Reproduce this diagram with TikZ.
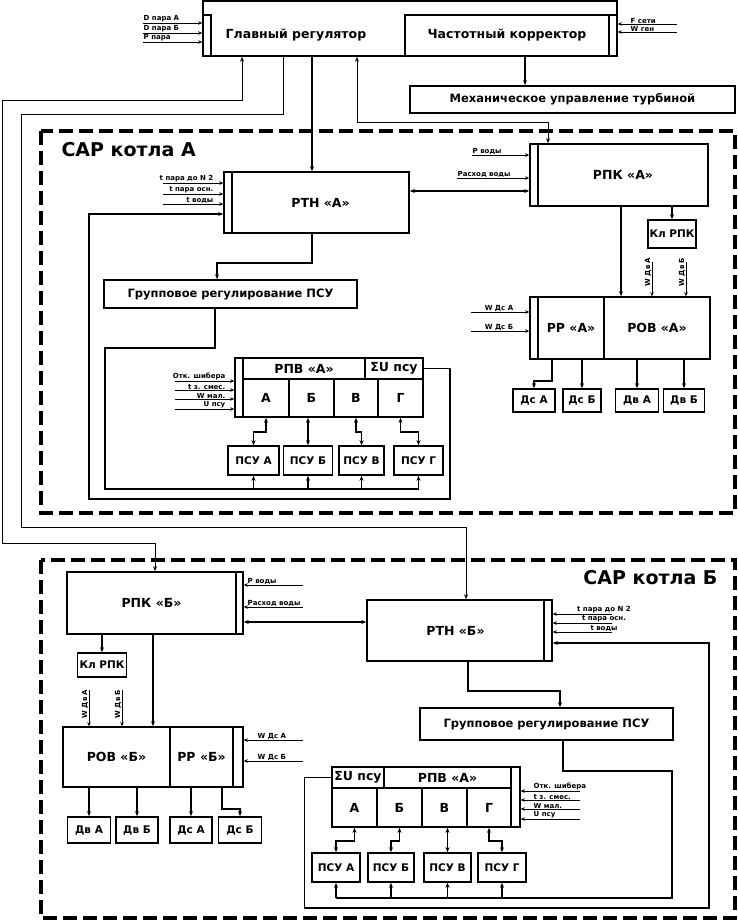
\documentclass[tikz,border=0pt]{standalone}
\usepackage{fontspec}
\setmainfont{DejaVu Sans}
\usetikzlibrary{arrows.meta}
\begin{document}
\begin{tikzpicture}[x=1pt,y=-1pt,
  blk/.style={draw, line width=1.6pt, inner sep=0pt, font=\bfseries\fontsize{12.5}{14}\selectfont},
  sblk/.style={blk, font=\bfseries\fontsize{10.5}{12}\selectfont},
  mblk/.style={blk, font=\bfseries\fontsize{11.5}{13}\selectfont},
  conn/.style={line width=1.4pt},
  arr/.style={conn, -{Stealth[length=5pt,width=4pt]}},
  darr/.style={conn, {Stealth[length=5pt,width=4pt]}-{Stealth[length=5pt,width=4pt]}},
  lp/.style={line width=1pt},
  lparr/.style={lp, -{Stealth[length=5pt,width=4pt]}},
  lpdarr/.style={lp, {Stealth[length=5pt,width=4pt]}-{Stealth[length=5pt,width=4pt]}},
  inarr/.style={line width=1pt, -{Stealth[length=4pt,width=3.5pt]}},
  inlbl/.style={font=\bfseries\fontsize{7}{7}\selectfont, inner sep=0.5pt},
  frm/.style={line width=3.2pt, dash pattern=on 14pt off 6pt},
  ttl/.style={font=\bfseries\fontsize{19}{22}\selectfont}]
\useasboundingbox (0,0) rectangle (738,922);

\node[blk, minimum width=414pt, minimum height=55pt] (top) at (410,28.5) {};
\node[blk, minimum width=8pt, minimum height=41pt] (glavS) at (207,35.5) {};
\node[font=\bfseries\fontsize{12.5}{14}\selectfont] (glav) at (296,35) {Главный регулятор};
\node[blk, minimum width=204pt, minimum height=41pt] (chast) at (507,35.5) {Частотный корректор};
\node[blk, minimum width=8pt, minimum height=41pt] (chastS) at (613,35.5) {};
\node[mblk, minimum width=325pt, minimum height=27pt] (mech) at (572.5,99.5) {Механическое управление турбиной};
\foreach \y/\t in {23/D пара А,33/D пара Б,42/P пара}{
  \coordinate (g\y) at (143,\y);
  \draw[inarr] (g\y) -- (g\y -| glavS.west);
  \node[inlbl, anchor=south west] (lg\y) at (g\y) {\t};
}
\foreach \y/\t in {24/F сети,32/W ген}{
  \coordinate (f\y) at (677,\y);
  \draw[inarr] (f\y) -- (f\y -| chastS.east);
  \node[inlbl, anchor=south west] (lf\y) at (630,\y) {\t};
}

\draw[frm] (41,131) rectangle (735,513);
\node[ttl, anchor=west] (sarA) at (58,150) {САР котла А};
\node[blk, minimum width=177pt, minimum height=61pt] (rtnA) at (320.5,202.5) {РТН «А»};
\node[blk, minimum width=8pt, minimum height=61pt] (rtnAs) at (228,202.5) {};
\foreach \y/\t in {183/t пара до N 2,194/t пара осн.,204/t воды}{
  \coordinate (ta\y) at (163,\y);
  \draw[inarr] (ta\y) -- (ta\y -| rtnAs.west);
  \node[inlbl, anchor=south east] (lta\y) at (214,\y) {\t};
}
\node[blk, minimum width=170pt, minimum height=62pt] (rpkA) at (623,175) {РПК «А»};
\node[blk, minimum width=8pt, minimum height=62pt] (rpkAs) at (534,175) {};
\foreach \y/\x/\t in {155/472/P воды,178/457/Расход воды}{
  \coordinate (pa\y) at (\x,\y);
  \draw[inarr] (pa\y) -- (pa\y -| rpkAs.west);
  \node[inlbl, anchor=south west] (lpa\y) at (pa\y) {\t};
}
\draw[darr] ([yshift=11.5pt]rtnA.east) -- ([yshift=-16pt]rpkAs.west);
\node[mblk, minimum width=253pt, minimum height=28pt] (grpA) at (230.5,294) {Групповое регулирование ПСУ};
\draw[arr] ([xshift=-8.5pt]rtnA.south) -- ++(0,29) -| ([xshift=-13.5pt]grpA.north);

\node[blk, minimum width=8pt, minimum height=59pt] (rpvAs) at (239,387.5) {};
\node[blk, minimum width=122pt, minimum height=21pt] (rpvA) at (304,368.5) {РПВ «А»};
\node[blk, minimum width=58pt, minimum height=21pt] (sumA) at (394,368.5) {ΣU псу};
\node[blk, minimum width=46pt, minimum height=38pt] (cAA) at (266,398) {А};
\node[blk, minimum width=45pt, minimum height=38pt] (cAB) at (311.5,398) {Б};
\node[blk, minimum width=44pt, minimum height=38pt] (cAC) at (356,398) {В};
\node[blk, minimum width=45pt, minimum height=38pt] (cAD) at (400.5,398) {Г};
\foreach \y/\t in {381/Отк. шибера,390/t з. смес.,399/W мал.,409/U псу}{
  \coordinate (va\y) at (175,\y);
  \draw[inarr] (va\y) -- (va\y -| rpvAs.west);
  \node[inlbl, anchor=south east] (lva\y) at (226,\y) {\t};
}
\node[sblk, minimum width=51pt, minimum height=29pt] (psuAA) at (253.5,460.5) {ПСУ А};
\node[sblk, minimum width=49pt, minimum height=29pt] (psuAB) at (308,460.5) {ПСУ Б};
\node[sblk, minimum width=45pt, minimum height=29pt] (psuAC) at (361.5,460.5) {ПСУ В};
\node[sblk, minimum width=49pt, minimum height=29pt] (psuAD) at (418.5,460.5) {ПСУ Г};
\draw[darr] (cAA.south) -- ++(0,14) -| (psuAA.north);
\draw[darr] ([xshift=-3.5pt]cAB.south) -- (psuAB.north);
\draw[darr] (cAC.south) -- ++(0,14) -| (psuAC.north);
\draw[darr] (cAD.south) -- ++(0,14) -| (psuAD.north);
\coordinate (busA) at (105,489);
\draw[conn] ([xshift=-15.5pt]grpA.south) -- ++(0,39) -| (busA) -- (busA -| psuAD.south);
\foreach \n in {psuAA,psuAB,psuAC,psuAD}
  \draw[arr] (busA -| \n.south) -- (\n.south);
\draw[arr] (sumA.east) -- ++(26,0) |- (89,499) |- ([yshift=-11.5pt]rtnAs.west);

\node[blk, minimum width=8pt, minimum height=62pt] (rrAs) at (534,328) {};
\node[blk, minimum width=66pt, minimum height=62pt] (rrA) at (571,328) {РР «А»};
\node[blk, minimum width=106pt, minimum height=62pt] (rovA) at (657,328) {РОВ «А»};
\foreach \y/\t in {312/W Дс А,331/W Дс Б}{
  \coordinate (wa\y) at (471,\y);
  \draw[inarr] (wa\y) -- (wa\y -| rrAs.west);
  \node[inlbl, anchor=south] (lwa\y) at (499,\y) {\t};
}
\node[sblk, minimum width=48pt, minimum height=28pt] (klA) at (672,234) {Кл РПК};
\draw[arr] ([xshift=-2pt]rpkA.south) -- ([xshift=-36pt]rovA.north);
\draw[arr] ([xshift=49pt]rpkA.south) -- (klA.north);
\foreach \x/\t in {652/W Дв А,686/W Дв Б}{
  \coordinate (da\x) at (\x,262);
  \draw[inarr] (da\x) -- (da\x |- rovA.north);
  \node[inlbl, rotate=90, anchor=south] (lda\x) at ([yshift=-10pt]da\x) {\t};
}
\node[sblk, minimum width=42pt, minimum height=23pt] (dsAA) at (534,400.5) {Дс А};
\node[sblk, minimum width=38pt, minimum height=23pt] (dsAB) at (582,400.5) {Дс Б};
\node[sblk, minimum width=43pt, minimum height=23pt] (dvAA) at (637,400.5) {Дв А};
\node[sblk, minimum width=41pt, minimum height=23pt] (dvAB) at (684,400.5) {Дв Б};
\draw[arr] ([xshift=-19pt]rrA.south) -- ++(0,21) -| (dsAA.north);
\draw[arr] ([xshift=11pt]rrA.south) -- (dsAB.north);
\draw[arr] ([xshift=-20pt]rovA.south) -- (dvAA.north);
\draw[arr] ([xshift=27pt]rovA.south) -- (dvAB.north);

\draw[frm] (41,560) rectangle (735,918);
\node[ttl, anchor=east] (sarB) at (721,578) {САР котла Б};
\node[blk, minimum width=169pt, minimum height=62pt] (rpkB) at (151.5,603) {РПК «Б»};
\node[blk, minimum width=7pt, minimum height=62pt] (rpkBs) at (239.5,603) {};
\foreach \y/\t in {585/P воды,607/Расход воды}{
  \coordinate (pb\y) at (303,\y);
  \draw[inarr] (pb\y) -- (pb\y -| rpkBs.east);
  \node[inlbl, anchor=south west] (lpb\y) at (247,\y) {\t};
}
\node[blk, minimum width=177pt, minimum height=61pt] (rtnB) at (455.5,630.5) {РТН «Б»};
\node[blk, minimum width=8pt, minimum height=61pt] (rtnBs) at (548,630.5) {};
\foreach \y/\t in {614/t пара до N 2,623/t пара осн.,632/t воды}{
  \coordinate (tb\y) at (612,\y);
  \draw[inarr] (tb\y) -- (tb\y -| rtnBs.east);
  \node[inlbl, anchor=south] (ltb\y) at (604,\y) {\t};
}
\draw[darr] ([yshift=-19pt]rpkBs.east) -- ([yshift=8.5pt]rtnB.west);
\node[mblk, minimum width=253pt, minimum height=32pt] (grpB) at (546.5,724) {Групповое регулирование ПСУ};
\draw[arr] ([xshift=12.5pt]rtnB.south) -- ++(0,29) -| ([xshift=13.5pt]grpB.north);

\node[blk, minimum width=52pt, minimum height=21pt] (sumB) at (358,777.5) {ΣU псу};
\node[blk, minimum width=127pt, minimum height=21pt] (rpvB) at (447.5,777.5) {РПВ «А»};
\node[blk, minimum width=9pt, minimum height=60pt] (rpvBs) at (515.5,797) {};
\node[blk, minimum width=45pt, minimum height=39pt] (cBA) at (354.5,807.5) {А};
\node[blk, minimum width=45pt, minimum height=39pt] (cBB) at (399.5,807.5) {Б};
\node[blk, minimum width=45pt, minimum height=39pt] (cBC) at (444.5,807.5) {В};
\node[blk, minimum width=44pt, minimum height=39pt] (cBD) at (489,807.5) {Г};
\foreach \y/\t in {791/Отк. шибера,800/t з. смес.,809/W мал.,819/U псу}{
  \coordinate (vb\y) at (580,\y);
  \draw[inarr] (vb\y) -- (vb\y -| rpvBs.east);
  \node[inlbl, anchor=south west] (lvb\y) at (533,\y) {\t};
}
\node[sblk, minimum width=48pt, minimum height=29pt] (psuBA) at (336,867.5) {ПСУ А};
\node[sblk, minimum width=46pt, minimum height=29pt] (psuBB) at (391,867.5) {ПСУ Б};
\node[sblk, minimum width=47pt, minimum height=29pt] (psuBC) at (447.5,867.5) {ПСУ В};
\node[sblk, minimum width=48pt, minimum height=29pt] (psuBD) at (502,867.5) {ПСУ Г};
\draw[darr] (cBA.south) -- ++(0,13) -| (psuBA.north);
\draw[darr] (cBB.south) -- ++(0,13) -| (psuBB.north);
\draw[darr] ([xshift=3pt]cBC.south) -- (psuBC.north);
\draw[darr] (cBD.south) -- ++(0,13) -| (psuBD.north);
\coordinate (busB) at (672,898);
\draw[conn] ([xshift=16.5pt]grpB.south) -- ++(0,30) -| (busB) -- (busB -| psuBA.south);
\foreach \n in {psuBA,psuBB,psuBC,psuBD}
  \draw[arr] (busB -| \n.south) -- (\n.south);
\draw[arr] (sumB.west) -- ++(-27,0) |- (709,908) |- ([yshift=-12.5pt]rtnBs.east);

\node[blk, minimum width=107pt, minimum height=60pt] (rovB) at (116.5,757) {РОВ «Б»};
\node[blk, minimum width=63pt, minimum height=60pt] (rrB) at (201.5,757) {РР «Б»};
\node[blk, minimum width=10pt, minimum height=60pt] (rrBs) at (238,757) {};
\foreach \y/\t in {740/W Дс А,761/W Дс Б}{
  \coordinate (wb\y) at (303,\y);
  \draw[inarr] (wb\y) -- (wb\y -| rrBs.east);
  \node[inlbl, anchor=south west] (lwb\y) at (257,\y) {\t};
}
\node[sblk, minimum width=49pt, minimum height=24pt] (klB) at (102,665) {Кл РПК};
\draw[arr] ([xshift=-49.5pt]rpkB.south) -- (klB.north);
\draw[arr] ([xshift=1.5pt]rpkB.south) -- ([xshift=36.5pt]rovB.north);
\foreach \x/\t in {89/W Дв А,122/W Дв Б}{
  \coordinate (db\x) at (\x,690);
  \draw[inarr] (db\x) -- (db\x |- rovB.north);
  \node[inlbl, rotate=90, anchor=south] (ldb\x) at ([yshift=-14pt]db\x) {\t};
}
\node[sblk, minimum width=43pt, minimum height=26pt] (dvBA) at (89,830) {Дв А};
\node[sblk, minimum width=42pt, minimum height=26pt] (dvBB) at (137,830) {Дв Б};
\node[sblk, minimum width=42pt, minimum height=26pt] (dsBA) at (191,830) {Дс А};
\node[sblk, minimum width=43pt, minimum height=26pt] (dsBB) at (240,830) {Дс Б};
\draw[arr] ([xshift=-27.5pt]rovB.south) -- (dvBA.north);
\draw[arr] ([xshift=20.5pt]rovB.south) -- (dvBB.north);
\draw[arr] ([xshift=-10.5pt]rrB.south) -- (dsBA.north);
\draw[arr] ([xshift=20.5pt]rrB.south) -- ++(0,21) -| (dsBB.north);

\draw[lpdarr] ([xshift=3.5pt]rpkB.north) -- ++(0,-28) -| (2,100) -| ([xshift=-168pt]top.south);
\draw[lparr] ([xshift=-127pt]top.south) -- ++(0,58) -| (21,527) -| ([xshift=10.5pt]rtnB.north);
\draw[arr] ([xshift=-98pt]top.south) -- ([xshift=-8.5pt]rtnA.north);
\draw[lpdarr] ([xshift=-53pt]top.south) -- ++(0,66) -| ([xshift=-75pt]rpkA.north);
\draw[arr] ([xshift=18pt]chast.south) -- ([xshift=-47.5pt]mech.north);
\end{tikzpicture}
\end{document}
